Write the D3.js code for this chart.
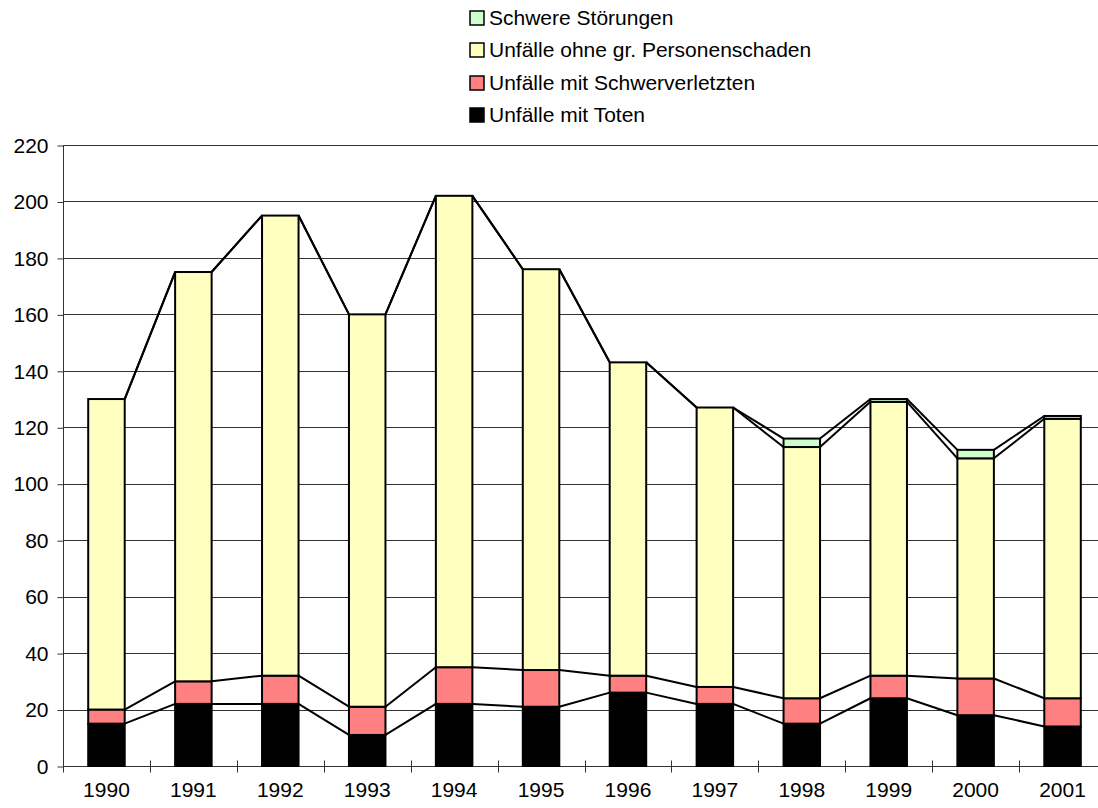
<!DOCTYPE html>
<html>
<head>
<meta charset="utf-8">
<script src="https://cdn.jsdelivr.net/npm/d3@7"></script>
<style>
  body { margin: 0; background: #fff; }
  text { font-family: "Liberation Sans", Arial, sans-serif; }
</style>
</head>
<body>
<script>
var years = ['1990', '1991', '1992', '1993', '1994', '1995', '1996', '1997', '1998', '1999', '2000', '2001'];

// Unfälle mit Toten
var toten = [15, 22, 22, 11, 22, 21, 26, 22, 15, 24, 18, 14];
// Unfälle mit Schwerverletzten
var schwerverletzte = [5, 8, 10, 10, 13, 13, 6, 6, 9, 8, 13, 10];
// Unfälle ohne gr. Personenschaden
var ohnePersonenschaden = [110, 145, 163, 139, 167, 142, 111, 99, 89, 97, 78, 99];
// Schwere Störungen
var stoerungen = [0, 0, 0, 0, 0, 0, 0, 0, 3, 1, 3, 1];

var yTicks = [0, 20, 40, 60, 80, 100, 120, 140, 160, 180, 200, 220];

var seriesNames = ['Unfälle mit Toten', 'Unfälle mit Schwerverletzten', 'Unfälle ohne gr. Personenschaden', 'Schwere Störungen'];
var seriesColors = ['#000000', '#ff8080', '#ffffc0', '#ccffcc'];

var width = 1098, height = 808;
var margin = { top: 145, right: -8, bottom: 42, left: 63 };
var fontSize = '21px';

var rows = years.map(function (y, i) {
  return { year: y, s0: toten[i], s1: schwerverletzte[i], s2: ohnePersonenschaden[i], s3: stoerungen[i] };
});

var stack = d3.stack().keys(['s0', 's1', 's2', 's3']);
var layers = stack(rows);

var x = d3.scaleBand().domain(years).range([margin.left, width - margin.right])
  .paddingInner(0.58).paddingOuter(0.29);
var y = d3.scaleLinear().domain([0, 220]).range([height - margin.bottom, margin.top]);

var svg = d3.select('body').append('svg')
  .attr('width', width)
  .attr('height', height);

// gridlines
svg.append('g').attr('class', 'grid')
  .selectAll('line').data(yTicks.slice(1)).enter().append('line')
  .attr('x1', margin.left).attr('x2', width - margin.right)
  .attr('y1', function (d) { return Math.round(y(d)) + 0.5; })
  .attr('y2', function (d) { return Math.round(y(d)) + 0.5; })
  .style('stroke', '#333').style('stroke-width', 1);

// y axis
var yAxis = svg.append('g')
  .attr('transform', 'translate(' + (margin.left + 0.5) + ',0.5)')
  .call(d3.axisLeft(y).tickValues(yTicks).tickSize(6).tickPadding(9));
yAxis.select('.domain').attr('d', 'M0,' + Math.round(y(220)) + 'V' + Math.round(y(0)));

// x axis with ticks on category boundaries
var x0 = Math.round(y(0)) + 0.5;
var xAxis = svg.append('g');
xAxis.append('line')
  .attr('x1', margin.left).attr('x2', width - margin.right)
  .attr('y1', x0).attr('y2', x0);
var step = x.step();
xAxis.selectAll('line.tick').data(years).enter().append('line')
  .attr('class', 'tick')
  .attr('x1', function (d, i) { return Math.round(margin.left + i * step) + 0.5; })
  .attr('x2', function (d, i) { return Math.round(margin.left + i * step) + 0.5; })
  .attr('y1', function (d, i) { return i === 0 ? x0 : x0 - 6; })
  .attr('y2', x0 + 6);
xAxis.selectAll('text').data(years).enter().append('text')
  .attr('x', function (d) { return x(d) + x.bandwidth() / 2; })
  .attr('y', height - 11)
  .attr('text-anchor', 'middle')
  .style('font-size', fontSize)
  .text(function (d) { return d; });

d3.selectAll('.domain, .tick line, line.tick').style('stroke', '#333').style('stroke-width', 1);
yAxis.selectAll('text').style('font-size', fontSize).style('fill', '#000');
xAxis.select('line').style('stroke', '#333');

// series lines between bars
var seriesLines = svg.append('g');
layers.forEach(function (layer) {
  for (var i = 0; i < layer.length - 1; i++) {
    seriesLines.append('line')
      .attr('x1', x(years[i]) + x.bandwidth())
      .attr('x2', x(years[i + 1]))
      .attr('y1', y(layer[i][1]))
      .attr('y2', y(layer[i + 1][1]))
      .style('stroke', '#000').style('stroke-width', 2);
  }
});

// bars
svg.append('g').selectAll('g').data(layers).enter().append('g')
  .style('fill', function (d, i) { return seriesColors[i]; })
  .selectAll('rect').data(function (d) { return d.filter(function (e) { return e[1] > e[0]; }); })
  .enter().append('rect')
  .attr('x', function (d) { return x(d.data.year); })
  .attr('width', x.bandwidth())
  .attr('y', function (d) { return y(d[1]); })
  .attr('height', function (d) { return y(d[0]) - y(d[1]); })
  .style('stroke', '#000').style('stroke-width', 2);

// legend, top series first
var legend = svg.append('g').attr('transform', 'translate(470,0)');
var order = [3, 2, 1, 0];
var legendY = [18, 50, 83, 115];
order.forEach(function (s, k) {
  var g = legend.append('g').attr('transform', 'translate(0,' + legendY[k] + ')');
  g.append('rect')
    .attr('x', 0).attr('y', -7).attr('width', 14).attr('height', 14)
    .style('fill', seriesColors[s]).style('stroke', '#000').style('stroke-width', 1.5);
  g.append('text')
    .attr('x', 19).attr('y', 0).attr('dy', '0.35em')
    .style('font-size', fontSize)
    .text(seriesNames[s]);
});
</script>
</body>
</html>
